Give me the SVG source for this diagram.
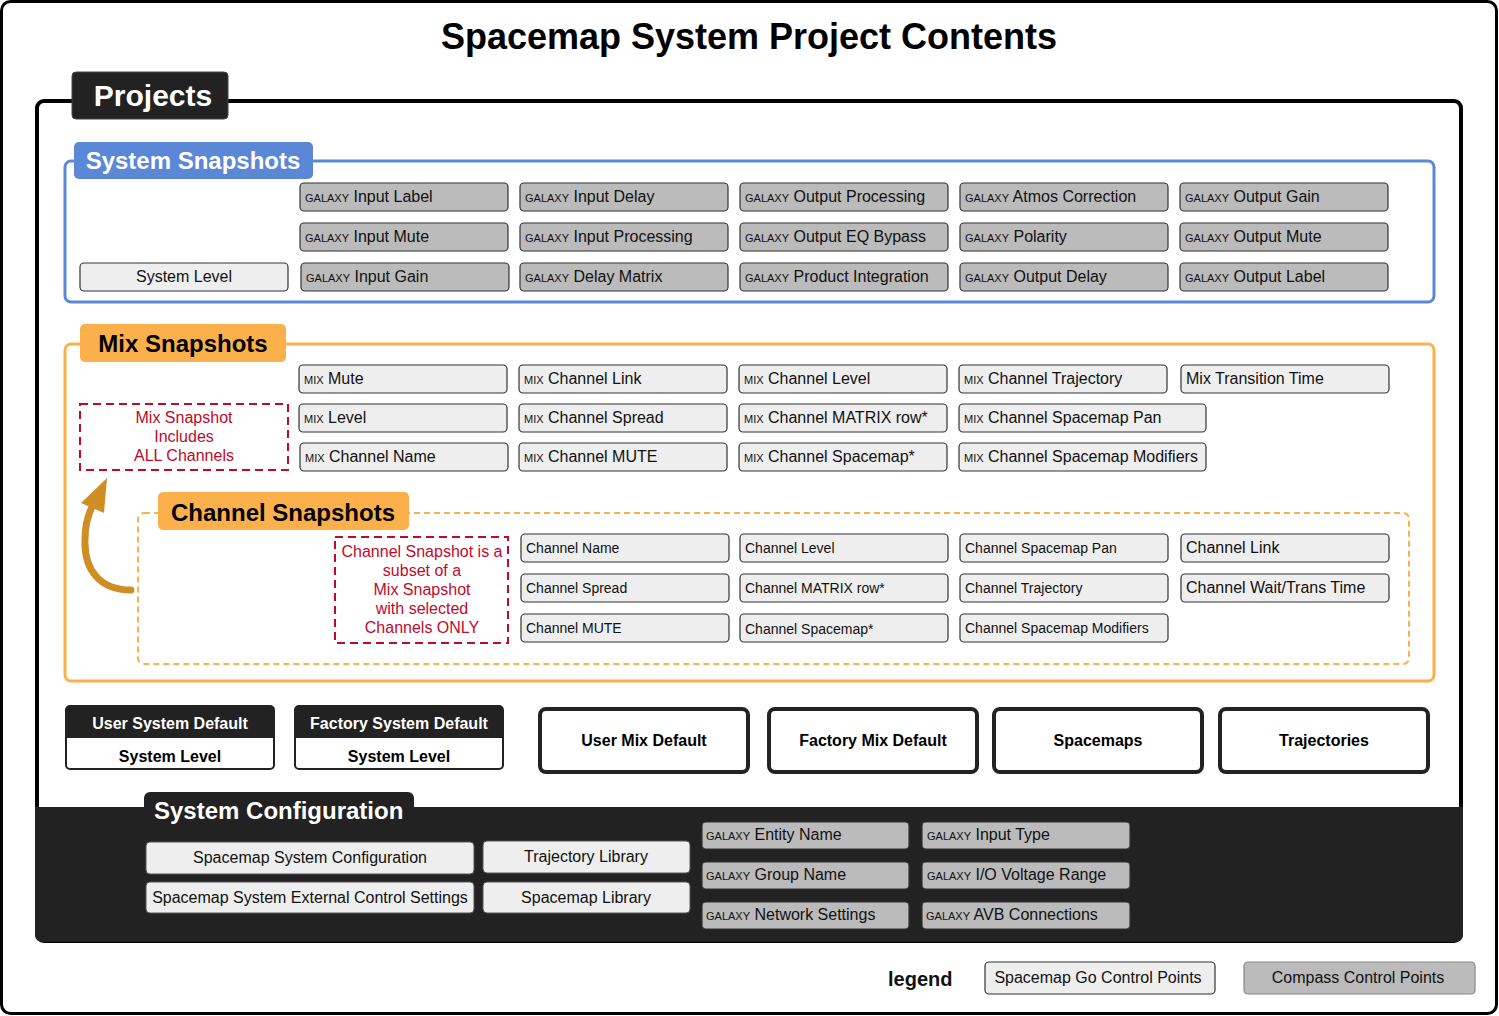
<svg xmlns="http://www.w3.org/2000/svg" width="1499" height="1016" viewBox="0 0 1499 1016">
<style>
text{font-family:"Liberation Sans",Arial,Helvetica,sans-serif;}
.b{font-weight:bold;}
.gal{fill:#bbbbbb;stroke:#333;stroke-width:1.2;}
.lt{fill:#eeeeee;stroke:#333;stroke-width:1.2;}
.t16{font-size:16px;fill:#111;}
.t14{font-size:14px;fill:#111;}
.sc{font-size:11px;}
.red{fill:none;stroke:#c00a2c;stroke-width:2;stroke-dasharray:8 5;}
.rt{font-size:16px;fill:#c00a2c;text-anchor:middle;}
.mid{text-anchor:middle;}
.def{fill:#fff;stroke:#222;stroke-width:4;}
</style>
<rect x="0" y="0" width="1499" height="1016" fill="#fff"/>
<rect x="1.5" y="1.5" width="1495" height="1012" rx="9" fill="#fff" stroke="#000" stroke-width="3"/>
<text x="749" y="49" class="b mid" font-size="36" fill="#000">Spacemap System Project Contents</text>

<g id="projects">
<rect x="37" y="101" width="1424" height="840" rx="7" fill="#fff" stroke="#000" stroke-width="4"/>
<rect x="72" y="72" width="156" height="47" rx="4" fill="#222" stroke="#444" stroke-width="1"/>
<text x="153" y="106" class="b mid" font-size="30" fill="#fff">Projects</text>
</g>

<g id="system-snapshots">
<rect x="65" y="161" width="1369" height="141" rx="6" fill="#fff" stroke="#5b87d7" stroke-width="3"/>
<rect x="74" y="142" width="239" height="37" rx="5" fill="#5b87d7"/>
<text x="193" y="169" class="b mid" font-size="24" fill="#fff">System Snapshots</text>
</g>
<g id="system-level"><rect x="80" y="263" width="208" height="28" rx="4" class="lt"/><text x="184" y="282" class="t16 mid">System Level</text></g>
<g id="s-input-label"><rect x="300" y="183" width="208" height="28" rx="4" class="gal"/><text x="305" y="202" class="t16"><tspan class="sc">GALAXY</tspan> Input Label</text></g>
<g id="s-input-mute"><rect x="300" y="223" width="208" height="28" rx="4" class="gal"/><text x="305" y="242" class="t16"><tspan class="sc">GALAXY</tspan> Input Mute</text></g>
<g id="s-input-gain"><rect x="301" y="263" width="208" height="28" rx="4" class="gal"/><text x="306" y="282" class="t16"><tspan class="sc">GALAXY</tspan> Input Gain</text></g>
<g id="s-input-delay"><rect x="520" y="183" width="208" height="28" rx="4" class="gal"/><text x="525" y="202" class="t16"><tspan class="sc">GALAXY</tspan> Input Delay</text></g>
<g id="s-input-processing"><rect x="520" y="223" width="208" height="28" rx="4" class="gal"/><text x="525" y="242" class="t16"><tspan class="sc">GALAXY</tspan> Input Processing</text></g>
<g id="s-delay-matrix"><rect x="520" y="263" width="208" height="28" rx="4" class="gal"/><text x="525" y="282" class="t16"><tspan class="sc">GALAXY</tspan> Delay Matrix</text></g>
<g id="s-output-processing"><rect x="740" y="183" width="208" height="28" rx="4" class="gal"/><text x="745" y="202" class="t16"><tspan class="sc">GALAXY</tspan> Output Processing</text></g>
<g id="s-output-eq"><rect x="740" y="223" width="208" height="28" rx="4" class="gal"/><text x="745" y="242" class="t16"><tspan class="sc">GALAXY</tspan> Output EQ Bypass</text></g>
<g id="s-product-integration"><rect x="740" y="263" width="208" height="28" rx="4" class="gal"/><text x="745" y="282" class="t16"><tspan class="sc">GALAXY</tspan> Product Integration</text></g>
<g id="s-atmos"><rect x="960" y="183" width="208" height="28" rx="4" class="gal"/><text x="965" y="202" class="t16"><tspan class="sc">GALAXY</tspan> Atmos Correction</text></g>
<g id="s-polarity"><rect x="960" y="223" width="208" height="28" rx="4" class="gal"/><text x="965" y="242" class="t16"><tspan class="sc">GALAXY</tspan> Polarity</text></g>
<g id="s-output-delay"><rect x="960" y="263" width="208" height="28" rx="4" class="gal"/><text x="965" y="282" class="t16"><tspan class="sc">GALAXY</tspan> Output Delay</text></g>
<g id="s-output-gain"><rect x="1180" y="183" width="208" height="28" rx="4" class="gal"/><text x="1185" y="202" class="t16"><tspan class="sc">GALAXY</tspan> Output Gain</text></g>
<g id="s-output-mute"><rect x="1180" y="223" width="208" height="28" rx="4" class="gal"/><text x="1185" y="242" class="t16"><tspan class="sc">GALAXY</tspan> Output Mute</text></g>
<g id="s-output-label"><rect x="1180" y="263" width="208" height="28" rx="4" class="gal"/><text x="1185" y="282" class="t16"><tspan class="sc">GALAXY</tspan> Output Label</text></g>

<g id="mix-snapshots">
<rect x="65" y="344" width="1369" height="337" rx="6" fill="#fff" stroke="#fbb04b" stroke-width="3"/>
<rect x="80" y="324" width="206" height="38" rx="5" fill="#fbb04b"/>
<text x="183" y="352" class="b mid" font-size="24" fill="#000">Mix Snapshots</text>
</g>
<g id="mix-note"><rect x="80" y="404" width="208" height="66" class="red"/><text class="rt"><tspan x="184" y="423">Mix Snapshot</tspan><tspan x="184" y="442">Includes</tspan><tspan x="184" y="461">ALL Channels</tspan></text></g>
<g id="m-mute"><rect x="299" y="365" width="208" height="28" rx="4" class="lt"/><text x="304" y="384" class="t16"><tspan class="sc">MIX</tspan> Mute</text></g>
<g id="m-level"><rect x="299" y="404" width="208" height="28" rx="4" class="lt"/><text x="304" y="423" class="t16"><tspan class="sc">MIX</tspan> Level</text></g>
<g id="m-channel-name"><rect x="300" y="443" width="208" height="28" rx="4" class="lt"/><text x="305" y="462" class="t16"><tspan class="sc">MIX</tspan> Channel Name</text></g>
<g id="m-channel-link"><rect x="519" y="365" width="208" height="28" rx="4" class="lt"/><text x="524" y="384" class="t16"><tspan class="sc">MIX</tspan> Channel Link</text></g>
<g id="m-channel-spread"><rect x="519" y="404" width="208" height="28" rx="4" class="lt"/><text x="524" y="423" class="t16"><tspan class="sc">MIX</tspan> Channel Spread</text></g>
<g id="m-channel-mute"><rect x="519" y="443" width="208" height="28" rx="4" class="lt"/><text x="524" y="462" class="t16"><tspan class="sc">MIX</tspan> Channel MUTE</text></g>
<g id="m-channel-level"><rect x="739" y="365" width="208" height="28" rx="4" class="lt"/><text x="744" y="384" class="t16"><tspan class="sc">MIX</tspan> Channel Level</text></g>
<g id="m-channel-matrix"><rect x="739" y="404" width="208" height="28" rx="4" class="lt"/><text x="744" y="423" class="t16"><tspan class="sc">MIX</tspan> Channel MATRIX row*</text></g>
<g id="m-channel-spacemap"><rect x="739" y="443" width="208" height="28" rx="4" class="lt"/><text x="744" y="462" class="t16"><tspan class="sc">MIX</tspan> Channel Spacemap*</text></g>
<g id="m-channel-trajectory"><rect x="959" y="365" width="208" height="28" rx="4" class="lt"/><text x="964" y="384" class="t16"><tspan class="sc">MIX</tspan> Channel Trajectory</text></g>
<g id="m-channel-spacemap-pan"><rect x="959" y="404" width="247" height="28" rx="4" class="lt"/><text x="964" y="423" class="t16"><tspan class="sc">MIX</tspan> Channel Spacemap Pan</text></g>
<g id="m-channel-spacemap-mod"><rect x="959" y="443" width="247" height="28" rx="4" class="lt"/><text x="964" y="462" class="t16"><tspan class="sc">MIX</tspan> Channel Spacemap Modifiers</text></g>
<g id="m-transition-time"><rect x="1181" y="365" width="208" height="28" rx="4" class="lt"/><text x="1186" y="384" class="t16">Mix Transition Time</text></g>

<g id="channel-snapshots">
<rect x="138" y="513" width="1271" height="151" rx="6" fill="none" stroke="#fbb04b" stroke-width="2" stroke-dasharray="6 4"/>
<rect x="158" y="492" width="251" height="38" rx="5" fill="#fbb04b"/>
<text x="283" y="521" class="b mid" font-size="24" fill="#000">Channel Snapshots</text>
</g>
<g id="channel-note"><rect x="335" y="537" width="173" height="106" class="red"/><text class="rt"><tspan x="422" y="557">Channel Snapshot is a</tspan><tspan x="422" y="576">subset of a</tspan><tspan x="422" y="595">Mix Snapshot</tspan><tspan x="422" y="614">with selected</tspan><tspan x="422" y="633">Channels ONLY</tspan></text></g>
<g id="c-name"><rect x="521" y="534" width="208" height="28" rx="4" class="lt"/><text x="526" y="553" class="t14">Channel Name</text></g>
<g id="c-spread"><rect x="521" y="574" width="208" height="28" rx="4" class="lt"/><text x="526" y="593" class="t14">Channel Spread</text></g>
<g id="c-mute"><rect x="521" y="614" width="208" height="28" rx="4" class="lt"/><text x="526" y="633" class="t14">Channel MUTE</text></g>
<g id="c-level"><rect x="740" y="534" width="208" height="28" rx="4" class="lt"/><text x="745" y="553" class="t14">Channel Level</text></g>
<g id="c-matrix"><rect x="740" y="574" width="208" height="28" rx="4" class="lt"/><text x="745" y="593" class="t14">Channel MATRIX row*</text></g>
<g id="c-spacemap"><rect x="740" y="614" width="208" height="28" rx="4" class="lt"/><text x="745" y="634" class="t14">Channel Spacemap*</text></g>
<g id="c-spacemap-pan"><rect x="960" y="534" width="208" height="28" rx="4" class="lt"/><text x="965" y="553" class="t14">Channel Spacemap Pan</text></g>
<g id="c-trajectory"><rect x="960" y="574" width="208" height="28" rx="4" class="lt"/><text x="965" y="593" class="t14">Channel Trajectory</text></g>
<g id="c-spacemap-mod"><rect x="960" y="614" width="208" height="28" rx="4" class="lt"/><text x="965" y="633" class="t14">Channel Spacemap Modifiers</text></g>
<g id="c-link"><rect x="1181" y="534" width="208" height="28" rx="4" class="lt"/><text x="1186" y="553" class="t16">Channel Link</text></g>
<g id="c-wait"><rect x="1181" y="574" width="208" height="28" rx="4" class="lt"/><text x="1186" y="593" class="t16">Channel Wait/Trans Time</text></g>

<g id="connectors">
<path d="M131,590 C100,590 84,570 85,540 C85,525 88,515 92,507" fill="none" stroke="#cf8d25" stroke-width="7" stroke-linecap="round"/>
<polygon points="107,478 81,503 104,513" fill="#cf8d25"/>
</g>

<g id="user-system-default">
<rect x="66" y="706" width="208" height="63" rx="4" fill="#fff" stroke="#222" stroke-width="2"/>
<path d="M66,738 V710 Q66,706 70,706 H270 Q274,706 274,710 V738 Z" fill="#222"/>
<text x="170" y="729" class="b mid" font-size="16" fill="#fff">User System Default</text>
<text x="170" y="762" class="b mid" font-size="16" fill="#000">System Level</text>
</g>
<g id="factory-system-default">
<rect x="295" y="706" width="208" height="63" rx="4" fill="#fff" stroke="#222" stroke-width="2"/>
<path d="M295,738 V710 Q295,706 299,706 H499 Q503,706 503,710 V738 Z" fill="#222"/>
<text x="399" y="729" class="b mid" font-size="16" fill="#fff">Factory System Default</text>
<text x="399" y="762" class="b mid" font-size="16" fill="#000">System Level</text>
</g>
<g id="user-mix-default"><rect x="540" y="709" width="208" height="63" rx="6" class="def"/><text x="644" y="746" class="b mid" font-size="16">User Mix Default</text></g>
<g id="factory-mix-default"><rect x="769" y="709" width="208" height="63" rx="6" class="def"/><text x="873" y="746" class="b mid" font-size="16">Factory Mix Default</text></g>
<g id="spacemaps"><rect x="994" y="709" width="208" height="63" rx="6" class="def"/><text x="1098" y="746" class="b mid" font-size="16">Spacemaps</text></g>
<g id="trajectories"><rect x="1220" y="709" width="208" height="63" rx="6" class="def"/><text x="1324" y="746" class="b mid" font-size="16">Trajectories</text></g>

<g id="system-configuration">
<path d="M35,807 H1463 V934 Q1463,942 1455,942 H43 Q35,942 35,934 Z" fill="#222"/>
<rect x="144" y="792" width="270" height="40" rx="6" fill="#222"/>
<text x="154" y="819" class="b" font-size="24" fill="#fff">System Configuration</text>
</g>
<g id="cfg-system"><rect x="146" y="842" width="328" height="32" rx="4" fill="#eee" stroke="#555" stroke-width="1"/><text x="310" y="863" class="t16 mid">Spacemap System Configuration</text></g>
<g id="cfg-external"><rect x="146" y="882" width="328" height="31" rx="4" fill="#eee" stroke="#555" stroke-width="1"/><text x="310" y="903" class="t16 mid">Spacemap System External Control Settings</text></g>
<g id="cfg-trajectory-library"><rect x="483" y="841" width="207" height="32" rx="4" fill="#eee" stroke="#555" stroke-width="1"/><text x="586" y="862" class="t16 mid">Trajectory Library</text></g>
<g id="cfg-spacemap-library"><rect x="483" y="882" width="207" height="31" rx="4" fill="#eee" stroke="#555" stroke-width="1"/><text x="586" y="903" class="t16 mid">Spacemap Library</text></g>
<g id="cfg-entity"><rect x="702" y="822" width="207" height="27" rx="4" class="gal"/><text x="706" y="840" class="t16"><tspan class="sc">GALAXY</tspan> Entity Name</text></g>
<g id="cfg-group"><rect x="702" y="862" width="207" height="27" rx="4" class="gal"/><text x="706" y="880" class="t16"><tspan class="sc">GALAXY</tspan> Group Name</text></g>
<g id="cfg-network"><rect x="702" y="902" width="207" height="27" rx="4" class="gal"/><text x="706" y="920" class="t16"><tspan class="sc">GALAXY</tspan> Network Settings</text></g>
<g id="cfg-input-type"><rect x="922" y="822" width="208" height="27" rx="4" class="gal"/><text x="927" y="840" class="t16"><tspan class="sc">GALAXY</tspan> Input Type</text></g>
<g id="cfg-voltage"><rect x="922" y="862" width="208" height="27" rx="4" class="gal"/><text x="927" y="880" class="t16"><tspan class="sc">GALAXY</tspan> I/O Voltage Range</text></g>
<g id="cfg-avb"><rect x="922" y="902" width="208" height="27" rx="4" class="gal"/><text x="926" y="920" class="t16"><tspan class="sc">GALAXY</tspan> AVB Connections</text></g>

<g id="legend">
<text x="888" y="986" class="b" font-size="20" fill="#111">legend</text>
<rect x="985" y="962" width="230" height="32" rx="4" fill="#eee" stroke="#333" stroke-width="1.2"/>
<text x="1098" y="983" class="t16 mid">Spacemap Go Control Points</text>
<rect x="1244" y="962" width="231" height="32" rx="4" fill="#bbb" stroke="#888" stroke-width="1.2"/>
<text x="1358" y="983" class="t16 mid">Compass Control Points</text>
</g>
</svg>
